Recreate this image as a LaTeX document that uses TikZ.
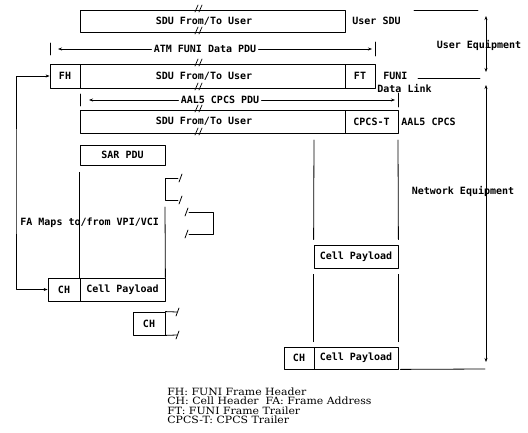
\documentclass[tikz,border=0pt]{standalone}
\usepackage{fontspec}
\setmonofont{DejaVu Sans Mono}
\newfontfamily\legendfont[FakeStretch=1.09]{DejaVu Serif}
\usetikzlibrary{arrows.meta}
\tikzset{
  pdu/.style={draw, line width=.8pt, inner sep=0pt, font=\ttfamily\bfseries\fontsize{10}{12}\selectfont},
  lbl/.style={inner sep=2pt, font=\ttfamily\bfseries\fontsize{10}{12}\selectfont},
  leg/.style={inner sep=0pt, anchor=base west, font=\legendfont\fontsize{10}{10}\selectfont},
  arr/.style={-{Stealth[length=4pt,width=3pt]}},
  dbl/.style={{Stealth[length=4pt,width=3pt]}-{Stealth[length=4pt,width=3pt]}},
}
\begin{document}
\begin{tikzpicture}[x=1pt, y=-1pt, line width=.8pt, line cap=round, line join=round]
	\useasboundingbox (0,0) rectangle (528,433);
	% user SDU
	\node[pdu, minimum width=265pt, minimum height=22pt] (usrsdu) at (212.5,21) {};
	\node[lbl] (usrtxt) at (204,21) {SDU From/To User};
	\node[lbl, anchor=west] (usrlbl) at (350,21) {User SDU};
	% FUNI frame
	\node[lbl] (atmtxt) at (205,49) {ATM FUNI Data PDU};
	\coordinate (atml) at (50,49);
	\coordinate (atmr) at (375,49);
	\draw ([yshift=6pt]atml) -- ([yshift=-6pt]atml);
	\draw ([yshift=7pt]atmr) -- ([yshift=-7pt]atmr);
	\draw[arr] (atmtxt.west) -- ([xshift=8pt]atml);
	\draw[arr] (atmtxt.east) -- ([xshift=-3pt]atmr);
	\node[pdu, minimum width=30pt, minimum height=24pt] (fh) at (65,76) {FH};
	\node[pdu, minimum width=265pt, minimum height=24pt] (funisdu) at (212.5,76) {};
	\node[lbl] (funitxt) at (204,76) {SDU From/To User};
	\node[pdu, minimum width=30pt, minimum height=24pt] (ft) at (360,76) {FT};
	\node[lbl, anchor=west, inner sep=0pt] (funilbl) at (383,76) {FUNI};
	\node[lbl, anchor=west, inner sep=0pt] (dllbl) at (377,89) {Data Link};
	% AAL5 CPCS
	\node[lbl] (aaltxt) at (220,100) {AAL5 CPCS PDU};
	\coordinate (aall) at (80,100);
	\coordinate (aalr) at (398,100);
	\draw ([yshift=6pt]aall) -- ([yshift=-6pt]aall);
	\draw ([yshift=7pt]aalr) -- ([yshift=-7pt]aalr);
	\draw[arr] (aaltxt.west) -- ([xshift=9pt]aall);
	\draw[arr] (aaltxt.east) -- ([xshift=-3pt]aalr);
	\node[pdu, minimum width=265pt, minimum height=23pt] (aalsdu) at (212.5,121.5) {};
	\node[lbl] (aalsdutxt) at (204,121.5) {SDU From/To User};
	\node[pdu, minimum width=53pt, minimum height=23pt] (cpcst) at (371.5,121.5) {CPCS-T};
	\node[lbl, anchor=west, inner sep=0pt] (aallbl) at (401,121.5) {AAL5 CPCS};
	% break marks
	\foreach \y in {10,32,64,88,110,133} {
		\draw[line width=.7pt] (195,\y+2) -- (198,\y-5);
		\draw[line width=.7pt] (199,\y+2) -- (202,\y-5);
	}
	% SAR and cells
	\node[pdu, minimum width=85pt, minimum height=20pt] (sar) at (122.5,155) {SAR PDU};
	\node[pdu, minimum width=32pt, minimum height=23pt] (ch1) at (64,289.5) {CH};
	\node[pdu, minimum width=85pt, minimum height=23pt] (cp1) at (122.5,289.5) {Cell Payload};
	\draw ([yshift=-7pt]sar.south west) -- (cp1.north west);
	\draw (165,207) -- (cp1.north east);
	\draw (178,178) -- (165,178) -- (165,200) -- (178,200);
	\draw (179,182) -- (182,174);
	\draw (179,204) -- (182,196);
	\draw (189,212) -- (213,212) -- (213,234) -- (189,234);
	\draw (185,216) -- (188,208);
	\draw (185,238) -- (188,230);
	\node[pdu, minimum width=32pt, minimum height=23pt] (ch2) at (149,323.5) {CH};
	\draw (ch2.north east) -- (177,312);
	\draw (ch2.south east) -- (177,335);
	\draw (176,316) -- (179,308);
	\draw (176,339) -- (179,331);
	\node[pdu, minimum width=84pt, minimum height=23pt] (cp2) at (356,256.5) {Cell Payload};
	\node[pdu, minimum width=30pt, minimum height=22pt] (ch3) at (299,358) {CH};
	\node[pdu, minimum width=84pt, minimum height=22pt] (cp3) at (356,358) {Cell Payload};
	\draw (314,140) -- ([yshift=5pt]cp2.north west);
	\draw (398,140) -- ([yshift=5pt]cp2.north east);
	\draw ([yshift=-6pt]cp2.south west) -- ([yshift=5pt]cp3.north west);
	\draw ([yshift=-6pt]cp2.south east) -- ([yshift=5pt]cp3.north east);
	% frame address mapping
	\coordinate (faline) at (16,180);
	\draw[dbl] (fh.west) -| (faline) |- (ch1.west);
	\node[lbl, anchor=west, inner sep=0pt] (fatxt) at (20,223) {FA Maps to/from VPI/VCI};
	% equipment
	\coordinate (usrtop) at (486,16);
	\coordinate (usrbot) at (486,72);
	\coordinate (netbot) at (486,362);
	\draw (414,10) -- (478,10);
	\draw (418,78) -- (480,78);
	\draw (cp3.south east) ++(2,0) -- (485,369);
	\draw[dbl] (usrtop) -- (usrbot);
	\draw[dbl] (486,85) -- (netbot);
	\node[lbl, inner sep=0pt] (usreq) at (479,45) {User Equipment};
	\node[lbl, inner sep=0pt] (neteq) at (463,191) {Network Equipment};
	% legend
	\node[leg] (leg1) at (167,395) {FH: FUNI Frame Header};
	\node[leg] (leg2) at (167,404.5) {CH: Cell Header\ \ FA: Frame Address};
	\node[leg] (leg3) at (167,414) {FT: FUNI Frame Trailer};
	\node[leg] (leg4) at (167,423.5) {CPCS-T: CPCS Trailer};
\end{tikzpicture}
\end{document}
